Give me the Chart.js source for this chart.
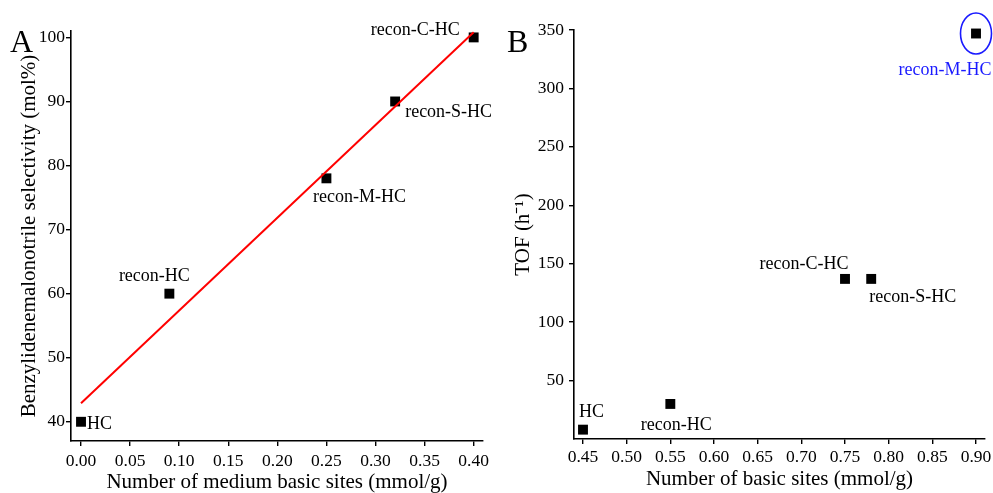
<!DOCTYPE html>
<html>
<head>
<meta charset="utf-8">
<script src="https://cdn.jsdelivr.net/npm/chart.js@4.4.1/dist/chart.umd.min.js"></script>
<style>
  html, body { margin: 0; padding: 0; background: #fff; }
  #wrap { position: relative; width: 993px; height: 493px; }
  canvas { position: absolute; top: 0; }
  #cA { left: 0; }
  #cB { left: 497px; }
</style>
</head>
<body>
<div id="wrap">
  <canvas id="cA" width="497" height="493"></canvas>
  <canvas id="cB" width="496" height="493"></canvas>
</div>
<script>
// --- panel A: selectivity vs medium basic sites
const namesA = ['HC', 'recon-HC', 'recon-M-HC', 'recon-S-HC', 'recon-C-HC'];
const xA = [0.00, 0.09, 0.25, 0.32, 0.40];
const yA = [40, 60, 78, 90, 100];
const fitXA = [0.00, 0.40];
const fitYA = [42.9, 100.8];
const xTicksA = [0, 0.05, 0.10, 0.15, 0.20, 0.25, 0.30, 0.35, 0.40];
const yTicksA = [40, 50, 60, 70, 80, 90, 100];

// --- panel B: TOF vs basic sites
const namesB = ['HC', 'recon-HC', 'recon-C-HC', 'recon-S-HC', 'recon-M-HC'];
const xB = [0.45, 0.55, 0.75, 0.78, 0.90];
const yB = [8, 30, 137, 137, 347];
const xTicksB = [0.45, 0.50, 0.55, 0.60, 0.65, 0.70, 0.75, 0.80, 0.85, 0.90];
const yTicksB = [50, 100, 150, 200, 250, 300, 350];

const SERIF = "'Liberation Serif', 'Times New Roman', serif";

// label placement relative to each point (px)
const placeA = [
  { dx: 6, dy: 2, align: 'left' },
  { dx: -15, dy: -17, align: 'center' },
  { dx: 33, dy: 18.5, align: 'center' },
  { dx: 10, dy: 11, align: 'left' },
  { dx: -14, dy: -7, align: 'right' }
];
const placeB = [
  { dx: -4, dy: -17, align: 'left' },
  { dx: 6, dy: 21, align: 'center' },
  { dx: -41, dy: -15, align: 'center' },
  { dx: -2, dy: 18, align: 'left' },
  { dx: -31, dy: 37, align: 'center' }
];

const pointLabels = {
  id: 'pointLabels',
  afterDatasetsDraw(chart, args, opts) {
    const meta = chart.getDatasetMeta(opts.dataset);
    const ctx = chart.ctx;
    ctx.save();
    ctx.font = '18px ' + SERIF;
    ctx.textBaseline = 'middle';
    meta.data.forEach((pt, i) => {
      const p = opts.place[i];
      ctx.fillStyle = (opts.colors && opts.colors[i]) || '#000';
      ctx.textAlign = p.align;
      ctx.fillText(opts.names[i], pt.x + p.dx, pt.y + p.dy);
      if (opts.ring === i) {
        ctx.strokeStyle = '#1a1aff';
        ctx.lineWidth = 1.6;
        ctx.beginPath();
        ctx.ellipse(pt.x, pt.y, 15.5, 20.5, 0, 0, Math.PI * 2);
        ctx.stroke();
      }
    });
    ctx.restore();
  }
};

const panelLetter = {
  id: 'panelLetter',
  afterDraw(chart, args, opts) {
    const ctx = chart.ctx;
    ctx.save();
    ctx.font = '32px ' + SERIF;
    ctx.fillStyle = '#000';
    ctx.textAlign = 'left';
    ctx.textBaseline = 'alphabetic';
    ctx.fillText(opts.text, 10, 52);
    ctx.restore();
  }
};

function pts(xs, ys) { return xs.map((x, i) => ({ x: x, y: ys[i] })); }

function axis(cfg) {
  return {
    type: 'linear',
    min: cfg.min, max: cfg.max,
    border: { display: true, color: '#000', width: 1.6 },
    grid: { display: true, drawOnChartArea: false, drawTicks: true, tickLength: cfg.tickLen, tickColor: '#000', lineWidth: 1.4 },
    ticks: {
      color: '#000', padding: cfg.pad, maxRotation: 0, autoSkip: false,
      font: { family: SERIF, size: 17.5 },
      callback: cfg.fmt
    },
    title: {
      display: true, text: cfg.title, color: '#000',
      font: { family: SERIF, size: 21, lineHeight: 1 },
      padding: cfg.titlePad
    },
    afterBuildTicks(scale) { scale.ticks = cfg.ticks.map(v => ({ value: v })); },
    afterFit(scale) {
      if (cfg.width) scale.width = cfg.width;
      if (cfg.height) { scale.height = cfg.height; scale.paddingLeft = 0; scale.paddingRight = 0; }
    }
  };
}

new Chart(document.getElementById('cA'), {
  type: 'scatter',
  data: {
    datasets: [
      { data: pts(fitXA, fitYA), showLine: true, borderColor: '#ff0000', borderWidth: 2, pointRadius: 0, clip: false },
      { data: pts(xA, yA), pointStyle: 'rect', pointRadius: 7, borderWidth: 0, backgroundColor: '#000', clip: false }
    ]
  },
  options: {
    responsive: false, animation: false,
    layout: { padding: { top: 31, right: 14, left: 0, bottom: 0 } },
    plugins: {
      legend: { display: false }, tooltip: { enabled: false },
      pointLabels: { dataset: 1, names: namesA, place: placeA },
      panelLetter: { text: 'A' }
    },
    scales: {
      x: axis({ min: -0.0102, max: 0.4095, ticks: xTicksA, fmt: v => v.toFixed(2), tickLen: 5, pad: 5,
        title: 'Number of medium basic sites (mmol/g)', titlePad: { top: 0, bottom: 0 }, height: 52 }),
      y: axis({ min: 37, max: 101, ticks: yTicksA, fmt: v => String(v), tickLen: 5, pad: 1,
        title: 'Benzylidenemalonotrile selectivity (mol%)', titlePad: { top: 19, bottom: 0 }, width: 71 })
    }
  },
  plugins: [pointLabels, panelLetter]
});

new Chart(document.getElementById('cB'), {
  type: 'scatter',
  data: {
    datasets: [
      { data: pts(xB, yB), pointStyle: 'rect', pointRadius: 7, borderWidth: 0, backgroundColor: '#000', clip: false }
    ]
  },
  options: {
    responsive: false, animation: false,
    layout: { padding: { top: 30, right: 8, left: 0, bottom: 0 } },
    plugins: {
      legend: { display: false }, tooltip: { enabled: false },
      pointLabels: { dataset: 0, names: namesB, place: placeB, colors: [null, null, null, null, '#1a1aff'], ring: 4 },
      panelLetter: { text: 'B' }
    },
    scales: {
      x: axis({ min: 0.4397, max: 0.9103, ticks: xTicksB, fmt: v => v.toFixed(2), tickLen: 5, pad: 3,
        title: 'Number of basic sites (mmol/g)', titlePad: { top: 0, bottom: 3 }, height: 54 }),
      y: axis({ min: 0, max: 350, ticks: yTicksB, fmt: v => String(v), tickLen: 5, pad: 5,
        title: 'TOF (h\u207B\u00B9)', titlePad: { top: 16, bottom: 0 }, width: 77 })
    }
  },
  plugins: [pointLabels, panelLetter]
});
</script>
</body>
</html>
